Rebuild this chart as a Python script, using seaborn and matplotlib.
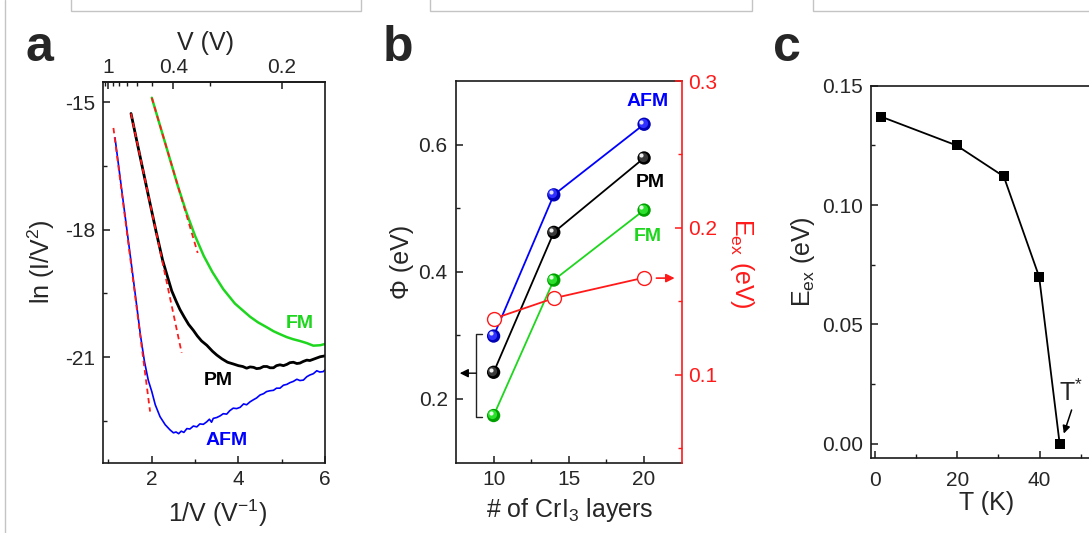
import matplotlib
matplotlib.use("Agg")
import matplotlib.pyplot as plt
import seaborn as sns
from matplotlib.ticker import FixedLocator, FormatStrFormatter
from matplotlib.transforms import offset_copy
from matplotlib.patches import Rectangle
from matplotlib.lines import Line2D

# ---------------- data: panel a (Fowler-Nordheim plot) ----------------
afm_inv_v = [1.15, 1.25, 1.35, 1.45, 1.55, 1.65, 1.74, 1.83, 1.92, 2.0, 2.08, 2.19, 2.31, 2.42,
             2.5, 2.56, 2.62, 2.68, 2.74, 2.81, 2.88, 2.96, 3.04, 3.11, 3.19, 3.27, 3.33, 3.38,
             3.42, 3.5, 3.58, 3.65, 3.73, 3.8, 3.88, 3.96, 4.04, 4.12, 4.19, 4.27, 4.35, 4.42,
             4.5, 4.58, 4.65, 4.73, 4.81, 4.88, 4.96, 5.04, 5.12, 5.19, 5.27, 5.35, 5.42, 5.5,
             5.58, 5.65, 5.73, 5.81, 5.88, 5.96, 6.0]
afm_ln = [-15.84, -16.63, -17.42, -18.2, -18.98, -19.78, -20.5, -21.1, -21.55, -21.81, -22.12,
          -22.4, -22.59, -22.71, -22.78, -22.76, -22.8, -22.74, -22.77, -22.68, -22.69, -22.62,
          -22.64, -22.57, -22.58, -22.52, -22.46, -22.53, -22.44, -22.42, -22.38, -22.33, -22.34,
          -22.26, -22.2, -22.21, -22.18, -22.1, -22.12, -22.05, -22.0, -21.96, -21.89, -21.86,
          -21.81, -21.79, -21.78, -21.73, -21.73, -21.66, -21.64, -21.6, -21.57, -21.52, -21.55,
          -21.54, -21.46, -21.42, -21.39, -21.32, -21.35, -21.34, -21.3]

pm_inv_v = [1.52, 1.65, 1.8, 1.95, 2.1, 2.25, 2.36, 2.46, 2.56, 2.65, 2.75, 2.85, 2.96, 3.05,
            3.15, 3.27, 3.4, 3.5, 3.62, 3.75, 3.88, 4.0, 4.1, 4.19, 4.27, 4.35, 4.42, 4.5, 4.58,
            4.66, 4.73, 4.81, 4.88, 4.96, 5.04, 5.12, 5.19, 5.27, 5.35, 5.42, 5.5, 5.58, 5.65,
            5.73, 5.81, 5.89, 6.0]
pm_ln = [-15.27, -15.9, -16.62, -17.34, -18.05, -18.72, -19.1, -19.44, -19.68, -19.88, -20.06,
         -20.23, -20.37, -20.5, -20.62, -20.72, -20.86, -20.95, -21.04, -21.12, -21.16, -21.2,
         -21.22, -21.26, -21.23, -21.24, -21.27, -21.26, -21.22, -21.22, -21.25, -21.25, -21.2,
         -21.18, -21.2, -21.17, -21.13, -21.12, -21.15, -21.14, -21.1, -21.07, -21.08, -21.05,
         -21.02, -20.99, -20.97]

fm_inv_v = [2.0, 2.2, 2.4, 2.6, 2.8, 3.0, 3.2, 3.4, 3.65, 3.92, 4.1, 4.27, 4.45, 4.66, 4.81,
            4.96, 5.12, 5.27, 5.42, 5.58, 5.73, 5.89, 6.0]
fm_ln = [-14.9, -15.59, -16.28, -16.97, -17.6, -18.15, -18.62, -19.0, -19.4, -19.74, -19.9,
         -20.05, -20.18, -20.3, -20.39, -20.46, -20.53, -20.58, -20.62, -20.67, -20.73, -20.72,
         -20.69]

# linear fits of the high-bias region
afm_fit_x, afm_fit_y = [1.114, 1.96], [-15.61, -22.28]
pm_fit_x, pm_fit_y = [1.52, 2.69], [-15.27, -20.9]
fm_fit_x, fm_fit_y = [2.0, 3.06], [-14.9, -18.55]

# ---------------- data: panel b (barrier height vs thickness) ----------------
layers = [10, 14, 20]
phi_afm = [0.299, 0.521, 0.632]
phi_pm = [0.242, 0.462, 0.579]
phi_fm = [0.174, 0.387, 0.497]
eex_layers = [0.138, 0.152, 0.166]

# ---------------- data: panel c (exchange splitting vs temperature) ----------------
temp_k = [1.5, 19.8, 31.3, 39.9, 44.9]
eex_temp = [0.137, 0.125, 0.112, 0.070, 0.0]

BLUE = "#0000ff"
GREEN = "#1ed61e"
RED = "#ff1a1a"

W, H = 1089, 533

sns.set_style("ticks")
plt.rcParams["font.family"] = ["Liberation Sans", "DejaVu Sans"]
plt.rcParams["mathtext.fontset"] = "custom"
plt.rcParams["mathtext.rm"] = "Liberation Sans"
plt.rcParams["mathtext.it"] = "Liberation Sans:italic"
plt.rcParams["mathtext.default"] = "regular"
plt.rcParams["axes.unicode_minus"] = False
plt.rcParams["axes.linewidth"] = 1.2
plt.rcParams["axes.edgecolor"] = "#1a1a1a"

TICK_FS = 15
LABEL_FS = 18


def box(left, top, right, bottom):
    return [left / W, 1 - bottom / H, (right - left) / W, (bottom - top) / H]


def style_ticks(ax, xpad=5.0, ypad=6.0):
    ax.tick_params(axis="both", which="both", direction="in", labelsize=TICK_FS,
                   top=False, right=False, color="#1a1a1a")
    ax.tick_params(axis="both", which="major", length=5, width=1.1)
    ax.tick_params(axis="both", which="minor", length=3, width=1.0)
    ax.tick_params(axis="x", which="both", pad=xpad)
    ax.tick_params(axis="y", which="both", pad=ypad)


fig = plt.figure(figsize=(W / 100, H / 100), dpi=100)

# page frame pieces around the panels
for x0, x1 in [(71, 361), (430, 752), (813, 1110)]:
    fig.patches.append(Rectangle((x0 / W, 1 - 11 / H), (x1 - x0) / W, 30 / H,
                                 transform=fig.transFigure, facecolor="white",
                                 edgecolor="#c4c4c4", lw=1.0))
fig.lines.append(Line2D([5.3 / W, 5.3 / W], [0, 1], transform=fig.transFigure,
                        color="#c4c4c4", lw=1.0))

# ======================= panel a =======================
ax_a = fig.add_axes(box(103.3, 81.6, 325, 462.6))
sns.lineplot(x=fm_inv_v, y=fm_ln, ax=ax_a, sort=False, estimator=None, color=GREEN, lw=1.8)
sns.lineplot(x=pm_inv_v, y=pm_ln, ax=ax_a, sort=False, estimator=None, color="black", lw=2.0)
sns.lineplot(x=afm_inv_v, y=afm_ln, ax=ax_a, sort=False, estimator=None, color=BLUE, lw=1.2)
for fx, fy in [(afm_fit_x, afm_fit_y), (pm_fit_x, pm_fit_y), (fm_fit_x, fm_fit_y)]:
    sns.lineplot(x=fx, y=fy, ax=ax_a, sort=False, estimator=None, color=RED, lw=1.3,
                 linestyle=(0, (3, 2.2)))
ax_a.set_xlim(0.88, 6.0)
ax_a.set_ylim(-23.48, -14.52)
ax_a.xaxis.set_major_locator(FixedLocator([2, 4, 6]))
ax_a.xaxis.set_minor_locator(FixedLocator([1, 3, 5]))
ax_a.yaxis.set_major_locator(FixedLocator([-15, -18, -21]))
ax_a.yaxis.set_minor_locator(FixedLocator([-16.5, -19.5, -22.5]))
style_ticks(ax_a)
ax_a.set_xlabel("1/V (V$^{-1}$)", fontsize=LABEL_FS)
ax_a.xaxis.set_label_coords(0.515, -0.134)
ax_a.xaxis.label.set_va("center")
ax_a.set_ylabel("ln (I/V$^{2}$)", fontsize=LABEL_FS)
ax_a.yaxis.set_label_coords(-0.278, 0.527)
ax_a.yaxis.label.set_va("center")

# bias voltage scale on top (reciprocal of the bottom axis)
top = ax_a.secondary_xaxis("top", functions=(lambda x: 1.0 / x, lambda x: 1.0 / x))
top.xaxis.set_major_locator(FixedLocator([1.0, 0.4, 0.2]))
top.xaxis.set_minor_locator(FixedLocator([1.1, 0.9, 0.8, 0.7, 0.6, 0.5, 0.3]))
top.set_xticklabels(["1", "0.4", "0.2"])
top.tick_params(axis="x", which="both", direction="in", labelsize=TICK_FS, pad=3.0,
                color="#1a1a1a")
top.tick_params(axis="x", which="major", length=5, width=1.1)
top.tick_params(axis="x", which="minor", length=3, width=1.0)
ax_a.text(0.459, 1.1026, "V (V)", transform=ax_a.transAxes, fontsize=LABEL_FS,
          ha="center", va="center")

ax_a.text(5.42, -20.2, "FM", color=GREEN, fontsize=14, fontweight="bold", ha="center", va="center")
ax_a.text(3.54, -21.56, "PM", color="black", fontsize=14, fontweight="bold", ha="center", va="center")
ax_a.text(3.73, -22.96, "AFM", color=BLUE, fontsize=14, fontweight="bold", ha="center", va="center")

# ======================= panel b =======================
ax_b = fig.add_axes(box(456, 81, 681.7, 462.6))
ax_r = ax_b.twinx()


def shaded_balls(ax, x, y, base, mid, shine):
    sns.scatterplot(x=x, y=y, ax=ax, s=92, color=base, edgecolor="none", zorder=4, legend=False)
    ax.scatter(x, y, s=44, color=mid, linewidths=0, zorder=5,
               transform=offset_copy(ax.transData, fig=fig, x=-1.0, y=1.0, units="points"))
    ax.scatter(x, y, s=9, color=shine, linewidths=0, zorder=6,
               transform=offset_copy(ax.transData, fig=fig, x=-1.9, y=1.9, units="points"))


for vals, c, base, mid, shine in [
    (phi_afm, BLUE, "#0000b4", "#3030ff", "#e0e0ff"),
    (phi_pm, "black", "#000000", "#3a3a3a", "#f0f0f0"),
    (phi_fm, GREEN, "#00a000", "#2ee02e", "#e8ffe8"),
]:
    sns.lineplot(x=layers, y=vals, ax=ax_b, sort=False, estimator=None, color=c, lw=1.3, zorder=3)
    shaded_balls(ax_b, layers, vals, base, mid, shine)

sns.lineplot(x=layers, y=eex_layers, ax=ax_r, sort=False, estimator=None, color=RED, lw=1.3, zorder=3)
sns.scatterplot(x=layers, y=eex_layers, ax=ax_r, s=100, facecolor="white", edgecolor=RED,
                linewidth=1.0, zorder=4, legend=False)

ax_b.set_xlim(7.5, 22.5)
ax_b.set_ylim(0.1, 0.7)
ax_r.set_ylim(0.04, 0.3)
ax_b.xaxis.set_major_locator(FixedLocator([10, 15, 20]))
ax_b.xaxis.set_minor_locator(FixedLocator([12.5, 17.5]))
ax_b.yaxis.set_major_locator(FixedLocator([0.2, 0.4, 0.6]))
ax_b.yaxis.set_minor_locator(FixedLocator([0.3, 0.5]))
ax_b.yaxis.set_major_formatter(FormatStrFormatter("%.1f"))
ax_r.yaxis.set_major_locator(FixedLocator([0.1, 0.2, 0.3]))
ax_r.yaxis.set_minor_locator(FixedLocator([0.05, 0.15, 0.25]))
ax_r.yaxis.set_major_formatter(FormatStrFormatter("%.1f"))
style_ticks(ax_b)
ax_b.spines["right"].set_visible(False)
for side in ["left", "top", "bottom"]:
    ax_r.spines[side].set_visible(False)
ax_r.spines["right"].set_color(RED)
ax_r.spines["right"].set_linewidth(1.2)
ax_r.tick_params(axis="y", which="both", direction="in", colors=RED, labelsize=TICK_FS,
                 left=False, right=True, pad=4.5)
ax_r.tick_params(axis="y", which="major", length=5, width=1.1)
ax_r.tick_params(axis="y", which="minor", length=3, width=1.0)

ax_b.set_xlabel("# of CrI$_3$ layers", fontsize=LABEL_FS)
ax_b.xaxis.set_label_coords(0.505, -0.124)
ax_b.xaxis.label.set_va("center")
ax_b.set_ylabel("\u03a6 (eV)", fontsize=LABEL_FS)
ax_b.yaxis.set_label_coords(-0.241, 0.526)
ax_b.yaxis.label.set_va("center")
ax_r.set_ylabel("E$_{ex}$ (eV)", fontsize=LABEL_FS, color=RED, rotation=270)
ax_r.yaxis.set_label_coords(1.266, 0.521)
ax_r.yaxis.label.set_va("center")

ax_b.text(20.26, 0.667, "AFM", color=BLUE, fontsize=14, fontweight="bold", ha="center", va="center")
ax_b.text(20.38, 0.541, "PM", color="black", fontsize=14, fontweight="bold", ha="center", va="center")
ax_b.text(20.26, 0.456, "FM", color=GREEN, fontsize=14, fontweight="bold", ha="center", va="center")

# bracket and arrow pointing to the left axis
bracket_x = [9.23, 8.83, 8.83, 9.23]
bracket_y = [0.302, 0.302, 0.171, 0.171]
ax_b.plot(bracket_x, bracket_y, color="#222222", lw=1.0, clip_on=False)
ax_b.annotate("", xy=(7.75, 0.2406), xytext=(8.83, 0.2406),
              arrowprops=dict(arrowstyle="-|>,head_length=0.5,head_width=0.25",
                              color="black", lw=1.0, shrinkA=0, shrinkB=0))
# arrow pointing to the right axis
ax_r.annotate("", xy=(22.03, 0.1657), xytext=(20.82, 0.1657),
              arrowprops=dict(arrowstyle="-|>,head_length=0.5,head_width=0.25",
                              color=RED, lw=1.2, shrinkA=0, shrinkB=0))

# ======================= panel c =======================
ax_c = fig.add_axes(box(871, 85.7, 1101.2, 457.5))
sns.lineplot(x=temp_k, y=eex_temp, ax=ax_c, sort=False, estimator=None, color="black", lw=1.3,
             marker="s", markersize=7.4, markeredgewidth=0, markerfacecolor="black")
ax_c.set_xlim(-1, 55)
ax_c.set_ylim(-0.0057, 0.15)
ax_c.xaxis.set_major_locator(FixedLocator([0, 20, 40]))
ax_c.xaxis.set_minor_locator(FixedLocator([10, 30, 50]))
ax_c.yaxis.set_major_locator(FixedLocator([0.0, 0.05, 0.10, 0.15]))
ax_c.yaxis.set_minor_locator(FixedLocator([0.025, 0.075, 0.125]))
ax_c.yaxis.set_major_formatter(FormatStrFormatter("%.2f"))
style_ticks(ax_c, xpad=10.0)
ax_c.set_xlabel("T (K)", fontsize=LABEL_FS)
ax_c.xaxis.set_label_coords(0.503, -0.123)
ax_c.xaxis.label.set_va("center")
ax_c.set_ylabel("E$_{ex}$ (eV)", fontsize=LABEL_FS)
ax_c.yaxis.set_label_coords(-0.294, 0.526)
ax_c.yaxis.label.set_va("center")
ax_c.text(47.6, 0.0215, "T$^{*}$", fontsize=18, ha="center", va="center")
ax_c.annotate("", xy=(45.9, 0.0043), xytext=(47.8, 0.0142),
              arrowprops=dict(arrowstyle="-|>,head_length=0.45,head_width=0.22",
                              color="black", lw=1.1, shrinkA=0, shrinkB=0))

# panel letters
for letter, xc in [("a", 39.7), ("b", 398.3), ("c", 786.7)]:
    fig.text(xc / W, 1 - 61.2 / H, letter, fontsize=36, fontweight="bold",
             ha="center", va="baseline")

fig.savefig("out.png", dpi=100)
